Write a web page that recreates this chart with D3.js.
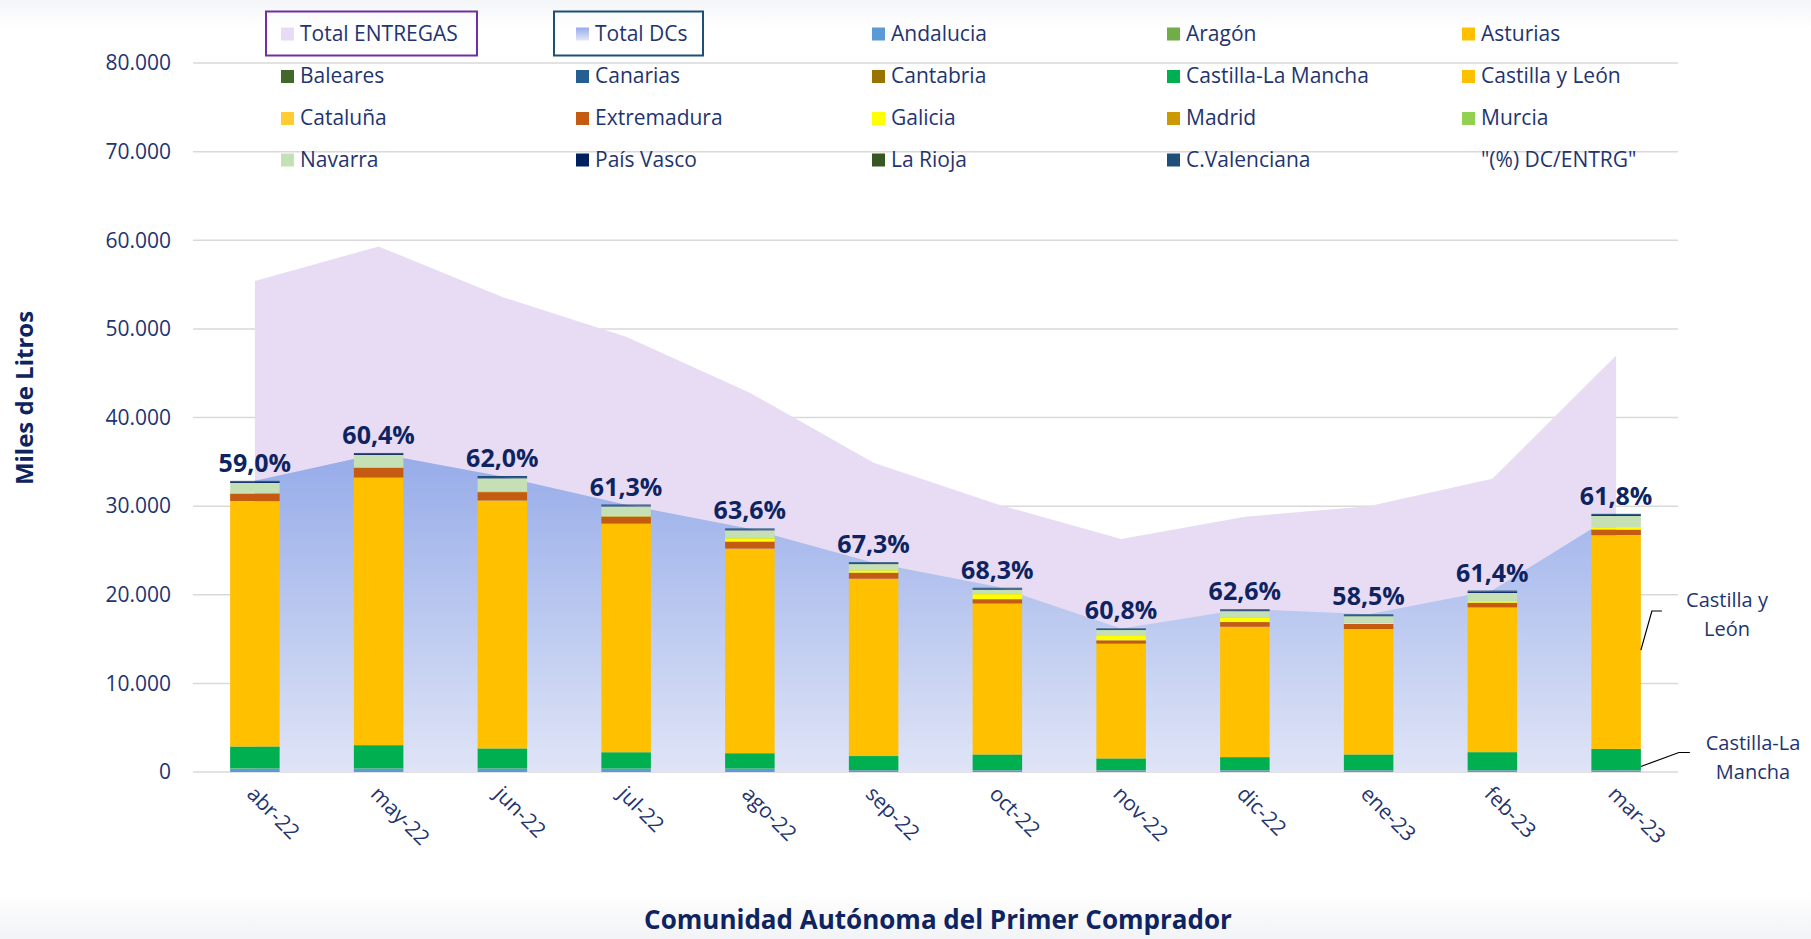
<!DOCTYPE html>
<html>
<head>
  <script src="https://d3js.org/d3.v7.min.js"></script>
  <style>
    body {
      margin: 0;
      font-family: 'Open Sans', sans-serif;
    }
    svg { display: block; }
    .grid line { stroke: #d9d9d9; stroke-width: 1.5px; }
    .ytick { fill: #1f3470; font-size: 21px; }
    .xtick { fill: #1f3470; font-size: 21px; }
    .pct { fill: #0e2461; font-size: 25px; font-weight: bold; }
    .legend text { fill: #1f3470; font-size: 21px; }
    .title { fill: #0e2461; font-size: 24px; font-weight: bold; }
    .note { fill: #1f3470; font-size: 20px; }
  </style>
</head>
<body>
<div id="chart"></div>
<script>
  // months on the x axis
  const months = ["abr-22", "may-22", "jun-22", "jul-22", "ago-22", "sep-22",
                  "oct-22", "nov-22", "dic-22", "ene-23", "feb-23", "mar-23"];

  // areas (miles de litros)
  const totalEntregas = [55400, 59300, 53600, 49100, 42800, 34900, 30200, 26300, 28800, 30000, 33100, 47000];
  const totalDCs      = [32850, 35950, 33350, 30150, 27450, 23600, 20900, 16200, 18400, 17800, 20500, 29150];

  // (%) DC/ENTRG labels
  const pctDcEntrg = [59.0, 60.4, 62.0, 61.3, 63.6, 67.3, 68.3, 60.8, 62.6, 58.5, 61.4, 61.8];

  // stacked regions, bottom to top
  const andalucia        = [380, 380, 380, 370, 370, 200, 190, 190, 190, 190, 190, 190];
  const aragon           = [10, 10, 10, 10, 10, 10, 10, 10, 10, 10, 10, 10];
  const asturias         = [5, 5, 5, 5, 5, 5, 5, 5, 5, 5, 5, 5];
  const baleares         = [0, 0, 0, 0, 0, 0, 0, 0, 0, 0, 0, 0];
  const canarias         = [0, 0, 0, 0, 0, 0, 0, 0, 0, 0, 0, 0];
  const cantabria        = [5, 5, 5, 5, 5, 5, 5, 5, 5, 5, 5, 5];
  const castillaLaMancha = [2480, 2630, 2260, 1840, 1730, 1580, 1770, 1320, 1470, 1770, 2030, 2400];
  const castillaYLeon    = [27660, 30180, 27960, 25780, 23070, 19990, 16990, 12930, 14690, 14130, 16310, 24090];
  const cataluna         = [20, 20, 20, 20, 20, 20, 40, 20, 20, 20, 20, 20];
  const extremadura      = [870, 1090, 940, 790, 790, 680, 490, 380, 530, 570, 530, 640];
  const galicia          = [40, 40, 40, 40, 380, 270, 570, 570, 530, 110, 190, 270];
  const madrid           = [10, 10, 10, 10, 10, 10, 10, 10, 10, 10, 10, 10];
  const murcia           = [10, 10, 10, 10, 10, 10, 10, 10, 10, 10, 10, 10];
  const navarra          = [1130, 1390, 1500, 1090, 870, 680, 490, 570, 680, 750, 900, 1240];
  const paisVasco        = [100, 100, 110, 90, 90, 90, 90, 80, 90, 90, 110, 100];
  const laRioja          = [20, 20, 20, 20, 20, 20, 20, 20, 20, 20, 20, 20];
  const cValenciana      = [110, 110, 130, 100, 100, 100, 100, 80, 100, 100, 130, 120];

  const regionNames = ["Andalucia", "Aragón", "Asturias", "Baleares", "Canarias", "Cantabria",
    "Castilla-La Mancha", "Castilla y León", "Cataluña", "Extremadura", "Galicia", "Madrid",
    "Murcia", "Navarra", "País Vasco", "La Rioja", "C.Valenciana"];
  const regionValues = [andalucia, aragon, asturias, baleares, canarias, cantabria,
    castillaLaMancha, castillaYLeon, cataluna, extremadura, galicia, madrid,
    murcia, navarra, paisVasco, laRioja, cValenciana];
  const regionColors = ["#5b9bd5", "#70ad47", "#ffc000", "#43682b", "#255e91", "#997300",
    "#00b050", "#ffc000", "#ffcd33", "#c55a11", "#ffff00", "#cc9900",
    "#92d050", "#c5e0b4", "#002060", "#375623", "#1f4e79"];

  const width = 1811, height = 939;

  const es = d3.formatLocale({ decimal: ",", thousands: ".", grouping: [3], currency: ["", "€"] });
  const fmtThousands = es.format(",");
  const fmtPct = es.format(".1f");

  const svg = d3.select("#chart").append("svg")
    .attr("width", width)
    .attr("height", height);

  const defs = svg.append("defs");

  // soft grey fade at top and bottom of the background
  const bg = defs.append("linearGradient").attr("id", "bg")
    .attr("x1", 0).attr("y1", 0).attr("x2", 0).attr("y2", 1);
  bg.append("stop").attr("offset", "0%").attr("stop-color", "#f4f5f8");
  bg.append("stop").attr("offset", "3%").attr("stop-color", "#ffffff");
  bg.append("stop").attr("offset", "95%").attr("stop-color", "#ffffff");
  bg.append("stop").attr("offset", "100%").attr("stop-color", "#f2f3f6");
  svg.append("rect").attr("width", width).attr("height", height).attr("fill", "url(#bg)");

  const x = d3.scaleBand()
    .domain(months)
    .range([193, 1678])
    .paddingInner(0.6)
    .paddingOuter(0.3);

  const y = d3.scaleLinear()
    .domain([0, 80000])
    .range([772, 63]);

  const cx = m => x(m) + x.bandwidth() / 2;

  const dcGrad = defs.append("linearGradient").attr("id", "dcGrad")
    .attr("gradientUnits", "userSpaceOnUse")
    .attr("x1", 0).attr("x2", 0)
    .attr("y1", y(d3.max(totalDCs))).attr("y2", y(0));
  dcGrad.append("stop").attr("offset", "0%").attr("stop-color", "#96ace9");
  dcGrad.append("stop").attr("offset", "100%").attr("stop-color", "#dfe4f6");

  // gridlines
  const ticks = d3.range(0, 80001, 10000);
  const grid = svg.append("g").attr("class", "grid");
  grid.selectAll("line").data(ticks).enter().append("line")
    .attr("x1", x.range()[0]).attr("x2", x.range()[1])
    .attr("y1", d => y(d)).attr("y2", d => y(d));

  svg.append("g").selectAll("text").data(ticks).enter().append("text")
    .attr("class", "ytick")
    .attr("x", 171)
    .attr("y", d => y(d))
    .attr("dy", "0.35em")
    .attr("text-anchor", "end")
    .text(d => fmtThousands(d));

  // areas
  const area = d3.area()
    .x((d, i) => cx(months[i]))
    .y0(y(0))
    .y1(d => y(d));

  svg.append("path").datum(totalEntregas)
    .attr("d", area)
    .attr("fill", "#e8dcf4");

  svg.append("path").datum(totalDCs)
    .attr("d", area)
    .attr("fill", "url(#dcGrad)");

  // stacked bars
  const rows = months.map((m, i) => {
    const r = { month: m };
    regionNames.forEach((n, k) => { r[n] = regionValues[k][i]; });
    return r;
  });
  const series = d3.stack().keys(regionNames)(rows);
  const color = d3.scaleOrdinal().domain(regionNames).range(regionColors);

  svg.append("g").selectAll("g").data(series).enter().append("g")
    .attr("fill", d => color(d.key))
    .selectAll("rect").data(d => d).enter().append("rect")
    .attr("x", d => x(d.data.month))
    .attr("width", x.bandwidth())
    .attr("y", d => y(d[1]))
    .attr("height", d => Math.max(0, y(d[0]) - y(d[1])));

  // percentage labels above the bars
  const topSeries = series[series.length - 1];
  svg.append("g").selectAll("text").data(months).enter().append("text")
    .attr("class", "pct")
    .attr("x", d => cx(d))
    .attr("y", (d, i) => y(topSeries[i][1]) - 9)
    .attr("text-anchor", "middle")
    .text((d, i) => fmtPct(pctDcEntrg[i]) + "%");

  // x tick labels
  svg.append("g").selectAll("text").data(months).enter().append("text")
    .attr("class", "xtick")
    .attr("transform", d => `translate(${cx(d) - 4},${790}) rotate(45)`)
    .attr("dy", "0.35em")
    .text(d => d);

  // axis titles
  svg.append("text")
    .attr("class", "title")
    .attr("x", 938)
    .attr("y", 920)
    .attr("dy", "0.35em")
    .attr("text-anchor", "middle")
    .style("font-size", "26px")
    .text("Comunidad Autónoma del Primer Comprador");

  svg.append("text")
    .attr("class", "title")
    .attr("transform", "translate(25,398) rotate(-90)")
    .attr("dy", "0.35em")
    .attr("text-anchor", "middle")
    .text("Miles de Litros");

  // legend
  const legendItems = [
    { name: "Total ENTREGAS", fill: "#e8dcf4", box: "#7030a0", bx: -15, bw: 211 },
    { name: "Total DCs", fill: "url(#legDc)", box: "#1f4e79", bx: -22, bw: 149 }
  ].concat(regionNames.map((n, k) => ({ name: n, fill: regionColors[k] })))
   .concat([{ name: "\"(%) DC/ENTRG\"", fill: null }]);

  const legDc = defs.append("linearGradient").attr("id", "legDc")
    .attr("x1", 0).attr("y1", 0).attr("x2", 0).attr("y2", 1);
  legDc.append("stop").attr("offset", "0%").attr("stop-color", "#96ace9");
  legDc.append("stop").attr("offset", "100%").attr("stop-color", "#e3e7f7");

  const colX = [281, 576, 872, 1167, 1462];
  const rowY = [33.5, 76, 118, 159.5];

  const leg = svg.append("g").attr("class", "legend")
    .selectAll("g").data(legendItems).enter().append("g")
    .attr("transform", (d, i) => `translate(${colX[i % 5]},${rowY[Math.floor(i / 5)]})`);

  leg.filter(d => d.box).append("rect")
    .attr("x", d => d.bx).attr("y", -22)
    .attr("width", d => d.bw)
    .attr("height", 44)
    .attr("fill", "none")
    .attr("stroke", d => d.box)
    .attr("stroke-width", 2);

  leg.filter(d => d.fill).append("rect")
    .attr("x", 0).attr("y", -6)
    .attr("width", 13).attr("height", 13)
    .attr("fill", d => d.fill);

  leg.append("text")
    .attr("x", 19)
    .attr("dy", "0.35em")
    .text(d => d.name);

  // callouts on the right
  const last = months[months.length - 1];
  const cyl = series[regionNames.indexOf("Castilla y León")][months.length - 1];
  const clm = series[regionNames.indexOf("Castilla-La Mancha")][months.length - 1];
  const barRight = x(last) + x.bandwidth();

  const line = d3.line();
  svg.append("path")
    .attr("d", line([[barRight, y((cyl[0] + cyl[1]) / 2) + 8], [barRight + 11, 611], [barRight + 21, 611]]))
    .attr("fill", "none").attr("stroke", "#000").attr("stroke-width", 1.2);
  svg.append("path")
    .attr("d", line([[barRight, y((clm[0] + clm[1]) / 2) + 7], [barRight + 38, 752.5], [barRight + 49, 752.5]]))
    .attr("fill", "none").attr("stroke", "#000").attr("stroke-width", 1.2);

  const notes = [
    { lines: ["Castilla y", "León"], x: 1727, y: 600 },
    { lines: ["Castilla-La", "Mancha"], x: 1753, y: 743 }
  ];
  notes.forEach(n => {
    svg.append("g").selectAll("text").data(n.lines).enter().append("text")
      .attr("class", "note")
      .attr("x", n.x)
      .attr("y", (d, i) => n.y + i * 29)
      .attr("dy", "0.35em")
      .attr("text-anchor", "middle")
      .text(d => d);
  });
</script>
</body>
</html>
